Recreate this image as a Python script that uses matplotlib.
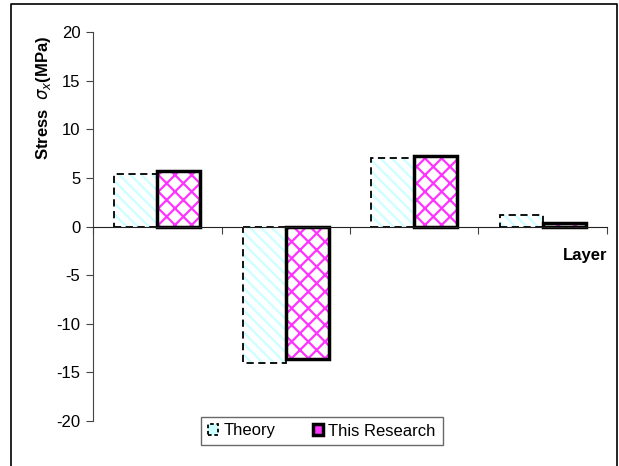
import matplotlib.pyplot as plt
import numpy as np
from matplotlib.patches import Rectangle

plt.rcParams['font.family'] = ['Liberation Sans', 'DejaVu Sans']
plt.rcParams['hatch.linewidth'] = 1.6
plt.rcParams['axes.unicode_minus'] = False

layers = ["1", "2", "3", "4"]
theory = [5.4, -14.0, 7.0, 1.2]
research = [5.7, -13.6, 7.2, 0.4]

fig = plt.figure(figsize=(6.19, 4.66), dpi=100)
ax = fig.add_axes([93 / 619, 1 - 421 / 466, (607 - 93) / 619, (421 - 32) / 466])

# outer frame (bottom edge is cut off in the original)
fig.add_artist(plt.Line2D([11 / 619, 11 / 619, 617 / 619, 617 / 619],
                          [0, 1 - 4 / 466, 1 - 4 / 466, 0],
                          transform=fig.transFigure, color='black', lw=1.2))

x = np.arange(len(layers))
w = 0.335

ax.bar(x - w / 2, theory, w, facecolor='white', edgecolor='#ccffff',
       hatch='\\\\\\', linewidth=0, label='Theory')
ax.bar(x - w / 2, theory, w, facecolor='none', edgecolor='black',
       linestyle=(0, (4, 2.5)), linewidth=1.3)
ax.bar(x + w / 2, research, w, facecolor='white', edgecolor='#ff33ff',
       hatch='xx', linewidth=0)
ax.bar(x + w / 2, research, w, facecolor='none', edgecolor='black',
       linewidth=2.5)

# legend proxies
h1 = Rectangle((0, 0), 1, 1, facecolor='#ccffff', edgecolor='black',
               linestyle=(0, (2, 1.5)), linewidth=1.3)
h2 = Rectangle((0, 0), 1, 1, facecolor='#ff33ff', edgecolor='black',
               linewidth=2.5)
leg = fig.legend([h1, h2], ['Theory', 'This Research'], loc='center',
                 bbox_to_anchor=(322 / 619, 1 - 431 / 466), ncol=2, frameon=True,
                 fancybox=False, edgecolor='#444444', fontsize=12,
                 handlelength=0.6, handleheight=0.6, handletextpad=0.3,
                 columnspacing=2.3, borderpad=0.4, borderaxespad=0)
leg.get_frame().set_linewidth(1.0)

ax.set_xlim(-0.5, 3.5)
ax.set_ylim(-20, 20)
ax.set_yticks(range(-20, 21, 5))
ax.tick_params(axis='y', labelsize=12, length=5, direction='out', color='#444444', pad=4)
ax.set_xticks(np.arange(-0.5, 4, 1))
ax.set_xticklabels([])
ax.tick_params(axis='x', length=5, direction='out', color='#444444')

for s in ['top', 'right']:
    ax.spines[s].set_visible(False)
ax.spines['bottom'].set_position(('data', 0))
ax.spines['left'].set_color('#444444')
ax.spines['bottom'].set_color('#222222')

ax.set_ylabel(r'Stress  $\sigma_x$(MPa)', fontsize=12, fontweight='bold')
ax.yaxis.set_label_coords(-0.078, 0.83)
ax.text(1.0, -3.0, 'Layer', transform=ax.get_yaxis_transform(),
        ha='right', va='center', fontsize=12, fontweight='bold')

fig.savefig('out.png', dpi=100)
